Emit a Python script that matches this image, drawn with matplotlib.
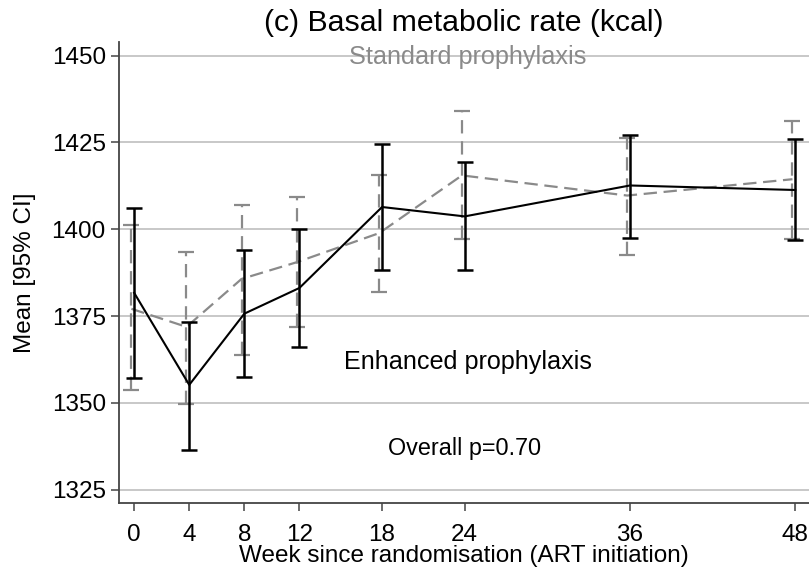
import matplotlib.pyplot as plt
import numpy as np

plt.rcParams['font.family'] = ['Liberation Sans', 'DejaVu Sans']

weeks = [0, 4, 8, 12, 18, 24, 36, 48]
week_labels = ["0", "4", "8", "12", "18", "24", "36", "48"]

enh_mean = [1381.7, 1355.2, 1375.7, 1383.1, 1406.4, 1403.7, 1412.6, 1411.3]
enh_lo = [1357.3, 1336.6, 1357.6, 1366.2, 1388.2, 1388.2, 1397.5, 1396.8]
enh_hi = [1406.0, 1373.4, 1393.9, 1400.1, 1424.6, 1419.3, 1427.2, 1425.9]

std_mean = [1377.1, 1371.9, 1385.7, 1390.5, 1398.9, 1415.5, 1409.7, 1414.4]
std_lo = [1353.8, 1349.8, 1363.8, 1371.9, 1381.9, 1397.3, 1392.6, 1397.3]
std_hi = [1401.1, 1393.4, 1407.1, 1409.2, 1415.7, 1433.9, 1426.2, 1431.3]

yticks = [1325, 1350, 1375, 1400, 1425, 1450]

fig = plt.figure(figsize=(8.09, 5.74), dpi=100)
ax = fig.add_axes([119/809, 1 - 503/574, 1 - 119/809, (503 - 42)/574])

gray = "#8a8a8a"
x = np.array(weeks, dtype=float)

# standard prophylaxis, dashed grey, nudged a little left
sm = np.array(std_mean)
eb = ax.errorbar(x - 0.2, sm, yerr=[sm - np.array(std_lo), np.array(std_hi) - sm],
                 color=gray, lw=1.6, elinewidth=1.6, capsize=6, capthick=1.6,
                 dashes=(6, 3), zorder=3)
eb[2][0].set_linestyle((0, (6, 3.5)))

em = np.array(enh_mean)
ax.errorbar(x, em, yerr=[em - np.array(enh_lo), np.array(enh_hi) - em],
            color="black", lw=1.5, elinewidth=1.8, capsize=6, capthick=1.8,
            zorder=4)

ax.set_xlim(-1.1, 49.0)
ax.set_ylim(1321.2, 1453.9)
ax.set_yticks(yticks)
ax.set_xticks(weeks)
ax.set_xticklabels(week_labels)
ax.yaxis.grid(True, color="#c8c8c8", lw=1.4)
ax.set_axisbelow(True)

for s in ["top", "right"]:
    ax.spines[s].set_visible(False)
for s in ["left", "bottom"]:
    ax.spines[s].set_color("#444444")
    ax.spines[s].set_linewidth(1.3)

ax.tick_params(axis="both", labelsize=17.5, colors="#444444", labelcolor="black",
               length=6, width=1.1, pad=3.5)
ax.tick_params(axis="x", length=6, pad=9)

ax.set_xlabel("Week since randomisation (ART initiation)", fontsize=17.5, labelpad=-0.5)
ax.set_ylabel("Mean [95% CI]", fontsize=17.5, labelpad=11)
ax.set_title("(c) Basal metabolic rate (kcal)", fontsize=21.8, pad=8)

ax.text(24.2, 1447.7, "Standard prophylaxis", color=gray, fontsize=18.2,
        ha="center", va="baseline")
ax.text(24.25, 1359.9, "Enhanced prophylaxis", color="black", fontsize=18.1,
        ha="center", va="baseline")
ax.text(24.0, 1334.9, "Overall p=0.70", color="black", fontsize=16.8,
        ha="center", va="baseline")

fig.savefig("out.png", dpi=100)
